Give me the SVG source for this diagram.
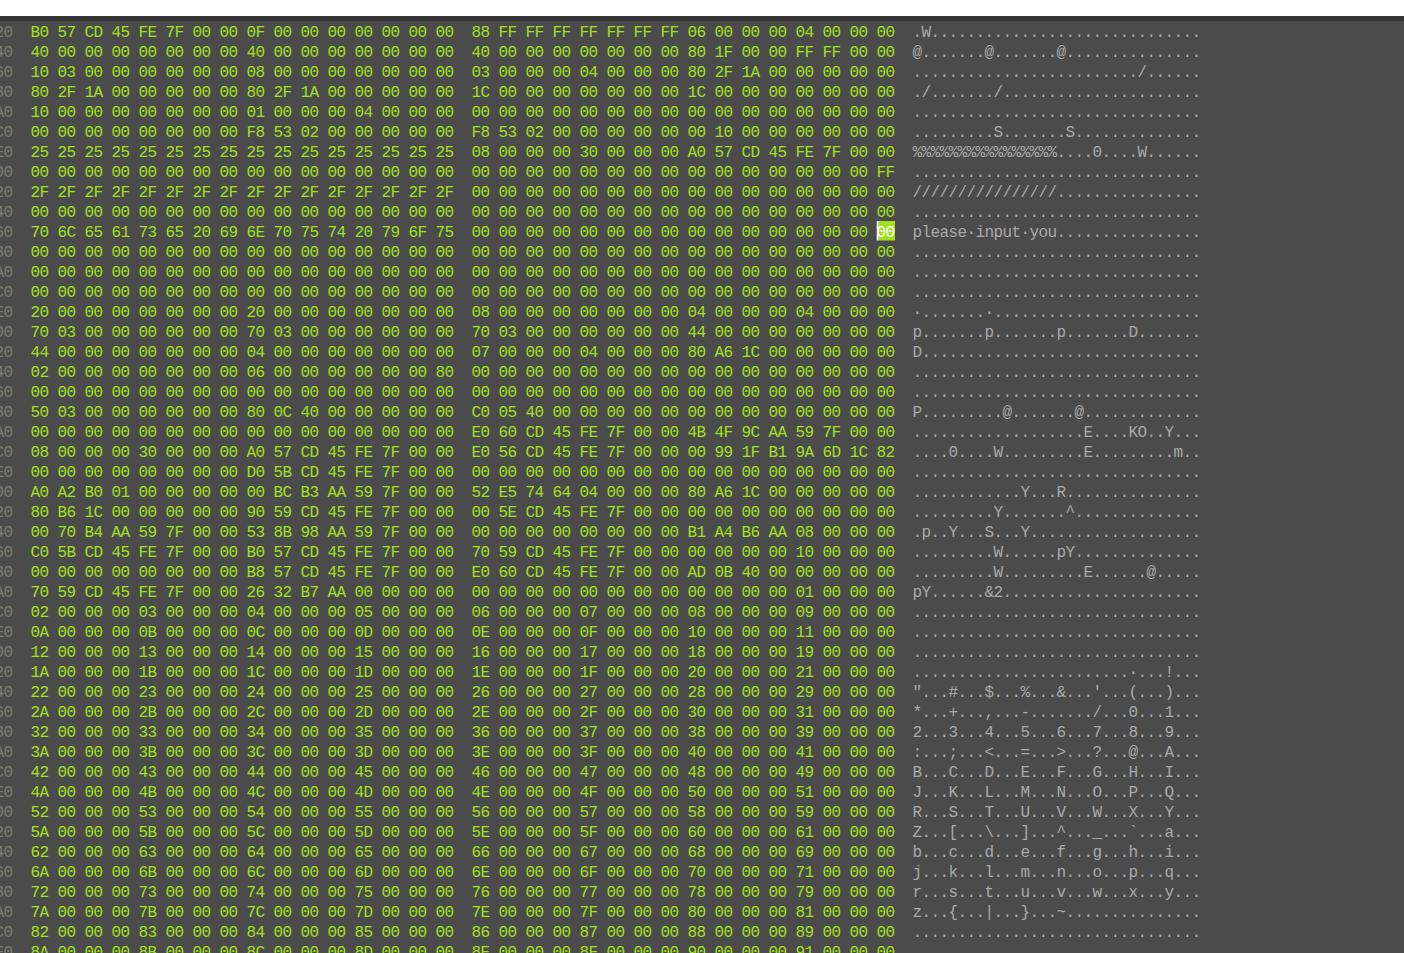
<svg xmlns="http://www.w3.org/2000/svg" width="1404" height="953" viewBox="0 0 1404 953">
<style>
text{font-family:"Liberation Mono","DejaVu Sans Mono",monospace;font-size:16px;letter-spacing:-0.6px}
.off{fill:#7d7d70}
.hex{fill:#a2e01e}
.asc{fill:#a9a9a9}
.sel{fill:#ffffff}
</style>
<rect x="0" y="0" width="1404" height="953" fill="#4b4b4b"/>
<rect x="0" y="0" width="1404" height="16" fill="#ffffff"/>
<rect x="0" y="16" width="1404" height="5" fill="#353535"/>
<g id="offsets" class="off">
<text x="-5.5" y="37">20</text><text x="-5.5" y="57">40</text><text x="-5.5" y="77">60</text><text x="-5.5" y="97">80</text><text x="-5.5" y="117">A0</text><text x="-5.5" y="137">C0</text><text x="-5.5" y="157">E0</text><text x="-5.5" y="177">00</text>
<text x="-5.5" y="197">20</text><text x="-5.5" y="217">40</text><text x="-5.5" y="237">60</text><text x="-5.5" y="257">80</text><text x="-5.5" y="277">A0</text><text x="-5.5" y="297">C0</text><text x="-5.5" y="317">E0</text><text x="-5.5" y="337">00</text>
<text x="-5.5" y="357">20</text><text x="-5.5" y="377">40</text><text x="-5.5" y="397">60</text><text x="-5.5" y="417">80</text><text x="-5.5" y="437">A0</text><text x="-5.5" y="457">C0</text><text x="-5.5" y="477">E0</text><text x="-5.5" y="497">00</text>
<text x="-5.5" y="517">20</text><text x="-5.5" y="537">40</text><text x="-5.5" y="557">60</text><text x="-5.5" y="577">80</text><text x="-5.5" y="597">A0</text><text x="-5.5" y="617">C0</text><text x="-5.5" y="637">E0</text><text x="-5.5" y="657">00</text>
<text x="-5.5" y="677">20</text><text x="-5.5" y="697">40</text><text x="-5.5" y="717">60</text><text x="-5.5" y="737">80</text><text x="-5.5" y="757">A0</text><text x="-5.5" y="777">C0</text><text x="-5.5" y="797">E0</text><text x="-5.5" y="817">00</text>
<text x="-5.5" y="837">20</text><text x="-5.5" y="857">40</text><text x="-5.5" y="877">60</text><text x="-5.5" y="897">80</text><text x="-5.5" y="917">A0</text><text x="-5.5" y="937">C0</text><text x="-5.5" y="957">E0</text>
</g>
<g id="hex-left" class="hex">
<text x="30.5" y="37">B0 57 CD 45 FE 7F 00 00 0F 00 00 00 00 00 00 00</text>
<text x="30.5" y="57">40 00 00 00 00 00 00 00 40 00 00 00 00 00 00 00</text>
<text x="30.5" y="77">10 03 00 00 00 00 00 00 08 00 00 00 00 00 00 00</text>
<text x="30.5" y="97">80 2F 1A 00 00 00 00 00 80 2F 1A 00 00 00 00 00</text>
<text x="30.5" y="117">10 00 00 00 00 00 00 00 01 00 00 00 04 00 00 00</text>
<text x="30.5" y="137">00 00 00 00 00 00 00 00 F8 53 02 00 00 00 00 00</text>
<text x="30.5" y="157">25 25 25 25 25 25 25 25 25 25 25 25 25 25 25 25</text>
<text x="30.5" y="177">00 00 00 00 00 00 00 00 00 00 00 00 00 00 00 00</text>
<text x="30.5" y="197">2F 2F 2F 2F 2F 2F 2F 2F 2F 2F 2F 2F 2F 2F 2F 2F</text>
<text x="30.5" y="217">00 00 00 00 00 00 00 00 00 00 00 00 00 00 00 00</text>
<text x="30.5" y="237">70 6C 65 61 73 65 20 69 6E 70 75 74 20 79 6F 75</text>
<text x="30.5" y="257">00 00 00 00 00 00 00 00 00 00 00 00 00 00 00 00</text>
<text x="30.5" y="277">00 00 00 00 00 00 00 00 00 00 00 00 00 00 00 00</text>
<text x="30.5" y="297">00 00 00 00 00 00 00 00 00 00 00 00 00 00 00 00</text>
<text x="30.5" y="317">20 00 00 00 00 00 00 00 20 00 00 00 00 00 00 00</text>
<text x="30.5" y="337">70 03 00 00 00 00 00 00 70 03 00 00 00 00 00 00</text>
<text x="30.5" y="357">44 00 00 00 00 00 00 00 04 00 00 00 00 00 00 00</text>
<text x="30.5" y="377">02 00 00 00 00 00 00 00 06 00 00 00 00 00 00 80</text>
<text x="30.5" y="397">00 00 00 00 00 00 00 00 00 00 00 00 00 00 00 00</text>
<text x="30.5" y="417">50 03 00 00 00 00 00 00 80 0C 40 00 00 00 00 00</text>
<text x="30.5" y="437">00 00 00 00 00 00 00 00 00 00 00 00 00 00 00 00</text>
<text x="30.5" y="457">08 00 00 00 30 00 00 00 A0 57 CD 45 FE 7F 00 00</text>
<text x="30.5" y="477">00 00 00 00 00 00 00 00 D0 5B CD 45 FE 7F 00 00</text>
<text x="30.5" y="497">A0 A2 B0 01 00 00 00 00 00 BC B3 AA 59 7F 00 00</text>
<text x="30.5" y="517">80 B6 1C 00 00 00 00 00 90 59 CD 45 FE 7F 00 00</text>
<text x="30.5" y="537">00 70 B4 AA 59 7F 00 00 53 8B 98 AA 59 7F 00 00</text>
<text x="30.5" y="557">C0 5B CD 45 FE 7F 00 00 B0 57 CD 45 FE 7F 00 00</text>
<text x="30.5" y="577">00 00 00 00 00 00 00 00 B8 57 CD 45 FE 7F 00 00</text>
<text x="30.5" y="597">70 59 CD 45 FE 7F 00 00 26 32 B7 AA 00 00 00 00</text>
<text x="30.5" y="617">02 00 00 00 03 00 00 00 04 00 00 00 05 00 00 00</text>
<text x="30.5" y="637">0A 00 00 00 0B 00 00 00 0C 00 00 00 0D 00 00 00</text>
<text x="30.5" y="657">12 00 00 00 13 00 00 00 14 00 00 00 15 00 00 00</text>
<text x="30.5" y="677">1A 00 00 00 1B 00 00 00 1C 00 00 00 1D 00 00 00</text>
<text x="30.5" y="697">22 00 00 00 23 00 00 00 24 00 00 00 25 00 00 00</text>
<text x="30.5" y="717">2A 00 00 00 2B 00 00 00 2C 00 00 00 2D 00 00 00</text>
<text x="30.5" y="737">32 00 00 00 33 00 00 00 34 00 00 00 35 00 00 00</text>
<text x="30.5" y="757">3A 00 00 00 3B 00 00 00 3C 00 00 00 3D 00 00 00</text>
<text x="30.5" y="777">42 00 00 00 43 00 00 00 44 00 00 00 45 00 00 00</text>
<text x="30.5" y="797">4A 00 00 00 4B 00 00 00 4C 00 00 00 4D 00 00 00</text>
<text x="30.5" y="817">52 00 00 00 53 00 00 00 54 00 00 00 55 00 00 00</text>
<text x="30.5" y="837">5A 00 00 00 5B 00 00 00 5C 00 00 00 5D 00 00 00</text>
<text x="30.5" y="857">62 00 00 00 63 00 00 00 64 00 00 00 65 00 00 00</text>
<text x="30.5" y="877">6A 00 00 00 6B 00 00 00 6C 00 00 00 6D 00 00 00</text>
<text x="30.5" y="897">72 00 00 00 73 00 00 00 74 00 00 00 75 00 00 00</text>
<text x="30.5" y="917">7A 00 00 00 7B 00 00 00 7C 00 00 00 7D 00 00 00</text>
<text x="30.5" y="937">82 00 00 00 83 00 00 00 84 00 00 00 85 00 00 00</text>
<text x="30.5" y="957">8A 00 00 00 8B 00 00 00 8C 00 00 00 8D 00 00 00</text>
</g>
<g id="hex-right" class="hex">
<text x="471.5" y="37">88 FF FF FF FF FF FF FF 06 00 00 00 04 00 00 00</text>
<text x="471.5" y="57">40 00 00 00 00 00 00 00 80 1F 00 00 FF FF 00 00</text>
<text x="471.5" y="77">03 00 00 00 04 00 00 00 80 2F 1A 00 00 00 00 00</text>
<text x="471.5" y="97">1C 00 00 00 00 00 00 00 1C 00 00 00 00 00 00 00</text>
<text x="471.5" y="117">00 00 00 00 00 00 00 00 00 00 00 00 00 00 00 00</text>
<text x="471.5" y="137">F8 53 02 00 00 00 00 00 00 10 00 00 00 00 00 00</text>
<text x="471.5" y="157">08 00 00 00 30 00 00 00 A0 57 CD 45 FE 7F 00 00</text>
<text x="471.5" y="177">00 00 00 00 00 00 00 00 00 00 00 00 00 00 00 FF</text>
<text x="471.5" y="197">00 00 00 00 00 00 00 00 00 00 00 00 00 00 00 00</text>
<text x="471.5" y="217">00 00 00 00 00 00 00 00 00 00 00 00 00 00 00 00</text>
<text x="471.5" y="237">00 00 00 00 00 00 00 00 00 00 00 00 00 00 00</text>
<text x="471.5" y="257">00 00 00 00 00 00 00 00 00 00 00 00 00 00 00 00</text>
<text x="471.5" y="277">00 00 00 00 00 00 00 00 00 00 00 00 00 00 00 00</text>
<text x="471.5" y="297">00 00 00 00 00 00 00 00 00 00 00 00 00 00 00 00</text>
<text x="471.5" y="317">08 00 00 00 00 00 00 00 04 00 00 00 04 00 00 00</text>
<text x="471.5" y="337">70 03 00 00 00 00 00 00 44 00 00 00 00 00 00 00</text>
<text x="471.5" y="357">07 00 00 00 04 00 00 00 80 A6 1C 00 00 00 00 00</text>
<text x="471.5" y="377">00 00 00 00 00 00 00 00 00 00 00 00 00 00 00 00</text>
<text x="471.5" y="397">00 00 00 00 00 00 00 00 00 00 00 00 00 00 00 00</text>
<text x="471.5" y="417">C0 05 40 00 00 00 00 00 00 00 00 00 00 00 00 00</text>
<text x="471.5" y="437">E0 60 CD 45 FE 7F 00 00 4B 4F 9C AA 59 7F 00 00</text>
<text x="471.5" y="457">E0 56 CD 45 FE 7F 00 00 00 99 1F B1 9A 6D 1C 82</text>
<text x="471.5" y="477">00 00 00 00 00 00 00 00 00 00 00 00 00 00 00 00</text>
<text x="471.5" y="497">52 E5 74 64 04 00 00 00 80 A6 1C 00 00 00 00 00</text>
<text x="471.5" y="517">00 5E CD 45 FE 7F 00 00 00 00 00 00 00 00 00 00</text>
<text x="471.5" y="537">00 00 00 00 00 00 00 00 B1 A4 B6 AA 08 00 00 00</text>
<text x="471.5" y="557">70 59 CD 45 FE 7F 00 00 00 00 00 00 10 00 00 00</text>
<text x="471.5" y="577">E0 60 CD 45 FE 7F 00 00 AD 0B 40 00 00 00 00 00</text>
<text x="471.5" y="597">00 00 00 00 00 00 00 00 00 00 00 00 01 00 00 00</text>
<text x="471.5" y="617">06 00 00 00 07 00 00 00 08 00 00 00 09 00 00 00</text>
<text x="471.5" y="637">0E 00 00 00 0F 00 00 00 10 00 00 00 11 00 00 00</text>
<text x="471.5" y="657">16 00 00 00 17 00 00 00 18 00 00 00 19 00 00 00</text>
<text x="471.5" y="677">1E 00 00 00 1F 00 00 00 20 00 00 00 21 00 00 00</text>
<text x="471.5" y="697">26 00 00 00 27 00 00 00 28 00 00 00 29 00 00 00</text>
<text x="471.5" y="717">2E 00 00 00 2F 00 00 00 30 00 00 00 31 00 00 00</text>
<text x="471.5" y="737">36 00 00 00 37 00 00 00 38 00 00 00 39 00 00 00</text>
<text x="471.5" y="757">3E 00 00 00 3F 00 00 00 40 00 00 00 41 00 00 00</text>
<text x="471.5" y="777">46 00 00 00 47 00 00 00 48 00 00 00 49 00 00 00</text>
<text x="471.5" y="797">4E 00 00 00 4F 00 00 00 50 00 00 00 51 00 00 00</text>
<text x="471.5" y="817">56 00 00 00 57 00 00 00 58 00 00 00 59 00 00 00</text>
<text x="471.5" y="837">5E 00 00 00 5F 00 00 00 60 00 00 00 61 00 00 00</text>
<text x="471.5" y="857">66 00 00 00 67 00 00 00 68 00 00 00 69 00 00 00</text>
<text x="471.5" y="877">6E 00 00 00 6F 00 00 00 70 00 00 00 71 00 00 00</text>
<text x="471.5" y="897">76 00 00 00 77 00 00 00 78 00 00 00 79 00 00 00</text>
<text x="471.5" y="917">7E 00 00 00 7F 00 00 00 80 00 00 00 81 00 00 00</text>
<text x="471.5" y="937">86 00 00 00 87 00 00 00 88 00 00 00 89 00 00 00</text>
<text x="471.5" y="957">8E 00 00 00 8F 00 00 00 90 00 00 00 91 00 00 00</text>
</g>
<g id="cursor">
<rect x="878.7" y="221" width="16.3" height="19.5" fill="#a2e01e"/>
<rect x="876.7" y="221" width="2" height="19.5" fill="#ffffff"/>
<text class="sel" x="876.5" y="237">00</text>
</g>
<g id="ascii" class="asc">
<text x="912.5" y="37">.W..............................</text>
<text x="912.5" y="57">@.......@.......@...............</text>
<text x="912.5" y="77">........................./......</text>
<text x="912.5" y="97">./......./......................</text>
<text x="912.5" y="117">................................</text>
<text x="912.5" y="137">.........S.......S..............</text>
<text x="912.5" y="157">%%%%%%%%%%%%%%%%....0....W......</text>
<text x="912.5" y="177">................................</text>
<text x="912.5" y="197">////////////////................</text>
<text x="912.5" y="217">................................</text>
<text x="912.5" y="237">please·input·you................</text>
<text x="912.5" y="257">................................</text>
<text x="912.5" y="277">................................</text>
<text x="912.5" y="297">................................</text>
<text x="912.5" y="317">·.......·.......................</text>
<text x="912.5" y="337">p.......p.......p.......D.......</text>
<text x="912.5" y="357">D...............................</text>
<text x="912.5" y="377">................................</text>
<text x="912.5" y="397">................................</text>
<text x="912.5" y="417">P.........@.......@.............</text>
<text x="912.5" y="437">...................E....KO..Y...</text>
<text x="912.5" y="457">....0....W.........E.........m..</text>
<text x="912.5" y="477">................................</text>
<text x="912.5" y="497">............Y...R...............</text>
<text x="912.5" y="517">.........Y.......^..............</text>
<text x="912.5" y="537">.p..Y...S...Y...................</text>
<text x="912.5" y="557">.........W......pY..............</text>
<text x="912.5" y="577">.........W.........E......@.....</text>
<text x="912.5" y="597">pY......&amp;2......................</text>
<text x="912.5" y="617">................................</text>
<text x="912.5" y="637">................................</text>
<text x="912.5" y="657">................................</text>
<text x="912.5" y="677">........................·...!...</text>
<text x="912.5" y="697">"...#...$...%...&amp;...'...(...)...</text>
<text x="912.5" y="717">*...+...,...-......./...0...1...</text>
<text x="912.5" y="737">2...3...4...5...6...7...8...9...</text>
<text x="912.5" y="757">:...;...&lt;...=...&gt;...?...@...A...</text>
<text x="912.5" y="777">B...C...D...E...F...G...H...I...</text>
<text x="912.5" y="797">J...K...L...M...N...O...P...Q...</text>
<text x="912.5" y="817">R...S...T...U...V...W...X...Y...</text>
<text x="912.5" y="837">Z...[...\...]...^..._...`...a...</text>
<text x="912.5" y="857">b...c...d...e...f...g...h...i...</text>
<text x="912.5" y="877">j...k...l...m...n...o...p...q...</text>
<text x="912.5" y="897">r...s...t...u...v...w...x...y...</text>
<text x="912.5" y="917">z...{...|...}...~...............</text>
<text x="912.5" y="937">................................</text>
<text x="912.5" y="957">................................</text>
</g>
</svg>
